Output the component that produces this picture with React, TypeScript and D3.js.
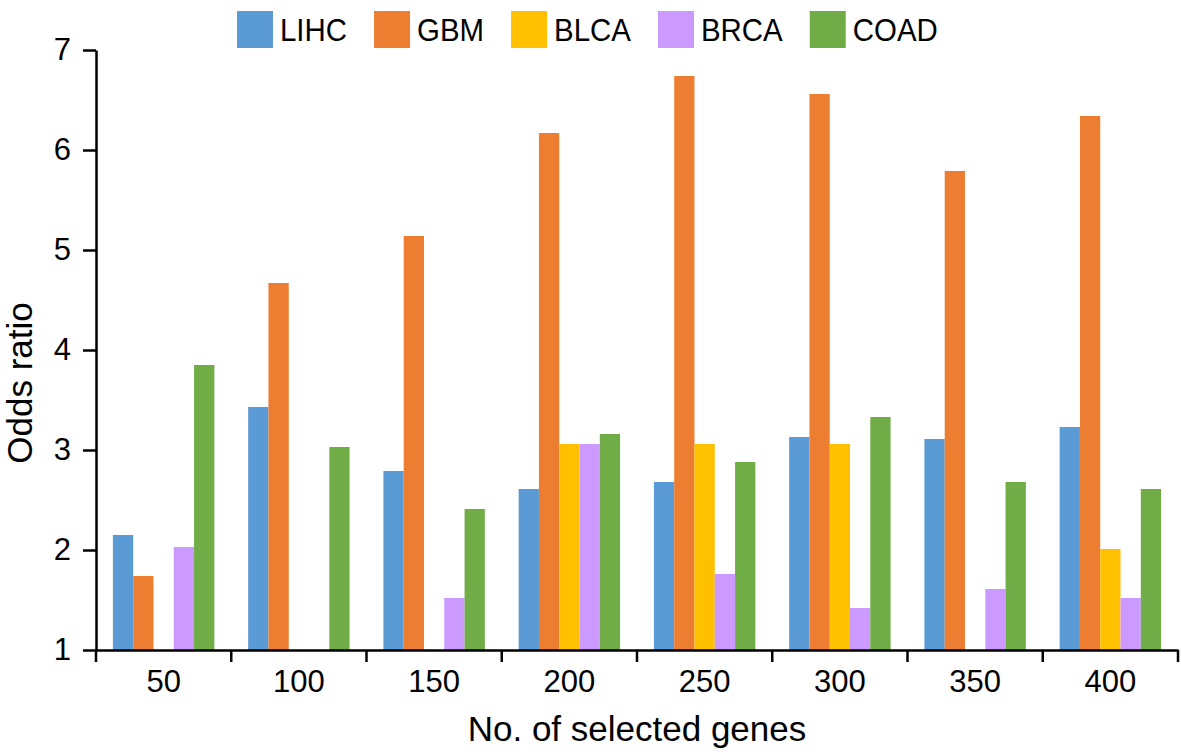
import React, { useEffect, useRef } from "react";
import * as d3 from "d3";

const categories = ["50", "100", "150", "200", "250", "300", "350", "400"];
const seriesNames = ["LIHC", "GBM", "BLCA", "BRCA", "COAD"];
const seriesColors = ["#5B9BD5", "#ED7D31", "#FFC000", "#CC99FF", "#70AD47"];
const LIHC = [2.15, 3.43, 2.79, 2.61, 2.68, 3.13, 3.11, 3.23];
const GBM = [1.74, 4.67, 5.14, 6.17, 6.74, 6.56, 5.79, 6.34];
const BLCA = [null, null, null, 3.06, 3.06, 3.06, null, 2.01];
const BRCA = [2.03, null, 1.52, 3.06, 1.76, 1.42, 1.61, 1.52];
const COAD = [3.85, 3.03, 2.41, 3.16, 2.88, 3.33, 2.68, 2.61];
const seriesValues = [LIHC, GBM, BLCA, BRCA, COAD];
const yTicks = [1, 2, 3, 4, 5, 6, 7];

const W = 1181;
const H = 752;
const FONT = "'Liberation Sans', Arial, sans-serif";

export default function App() {
  const ref = useRef<SVGSVGElement>(null);

  useEffect(() => {
    const svg = d3.select(ref.current);
    svg.selectAll("*").remove();

    const left = 96, right = 1178, top = 50, bottom = 650;
    const x0 = d3.scaleBand<string>().domain(categories).range([left, right]).padding(0);
    const bw = x0.bandwidth();
    const x1 = d3.scaleBand<string>().domain(seriesNames).range([bw * 0.125, bw * 0.875]).padding(0);
    const y = d3.scaleLinear().domain([1, 7]).range([bottom, top]);

    // bars
    seriesNames.forEach((s, si) => {
      const vals = seriesValues[si];
      svg.append("g")
        .selectAll("rect")
        .data(categories.map((c, i) => ({ c, v: vals[i] })).filter(d => d.v != null))
        .join("rect")
        .attr("x", d => (x0(d.c) as number) + (x1(s) as number))
        .attr("width", x1.bandwidth())
        .attr("y", d => y(d.v as number))
        .attr("height", d => y(1) - y(d.v as number))
        .attr("fill", seriesColors[si]);
    });

    // y axis
    const yAxis = svg.append("g").attr("transform", `translate(${left},0)`)
      .call(d3.axisLeft(y).tickValues(yTicks).tickSize(13).tickPadding(12).tickSizeOuter(0).tickFormat(d3.format("d")));
    yAxis.select(".domain").attr("stroke", "#000").attr("stroke-width", 2.5);
    yAxis.selectAll(".tick line").attr("stroke", "#000").attr("stroke-width", 2.5);
    yAxis.selectAll(".tick text").attr("font-size", 31).attr("font-family", FONT).attr("fill", "#000");

    // x axis
    const xAxis = svg.append("g").attr("transform", `translate(0,${bottom})`)
      .call(d3.axisBottom(x0).tickSize(0).tickPadding(20).tickSizeOuter(0));
    xAxis.select(".domain").attr("stroke", "#000").attr("stroke-width", 2.5);
    xAxis.selectAll(".tick line").remove();
    xAxis.selectAll(".tick text").attr("font-size", 31).attr("font-family", FONT).attr("fill", "#000");
    const boundaries = categories.map(c => x0(c) as number).concat([right]);
    xAxis.selectAll(".bound").data(boundaries).join("line")
      .attr("x1", d => d).attr("x2", d => d).attr("y1", 0).attr("y2", 12)
      .attr("stroke", "#000").attr("stroke-width", 2.5);

    // axis titles
    svg.append("text")
      .attr("x", (left + right) / 2).attr("y", 741)
      .attr("text-anchor", "middle").attr("font-size", 35).attr("font-family", FONT)
      .text("No. of selected genes");
    svg.append("text")
      .attr("transform", `translate(32,383) rotate(-90)`)
      .attr("text-anchor", "middle").attr("font-size", 35).attr("font-family", FONT)
      .text("Odds ratio");

    // legend
    const leg = svg.append("g");
    let cx = 237;
    seriesNames.forEach((s, i) => {
      leg.append("rect").attr("x", cx).attr("y", 11).attr("width", 36).attr("height", 37).attr("fill", seriesColors[i]);
      const t = leg.append("text")
        .attr("font-size", 32).attr("font-family", FONT)
        .attr("transform", `translate(${cx + 43},41) scale(0.92,1)`)
        .text(s);
      const w = (t.node() as SVGTextElement).getComputedTextLength() * 0.92;
      cx = cx + 43 + w + 27;
    });
  }, []);

  return (
    <svg ref={ref} width={W} height={H} style={{ position: "absolute", left: 0, top: 0, background: "#fff" }} />
  );
}
